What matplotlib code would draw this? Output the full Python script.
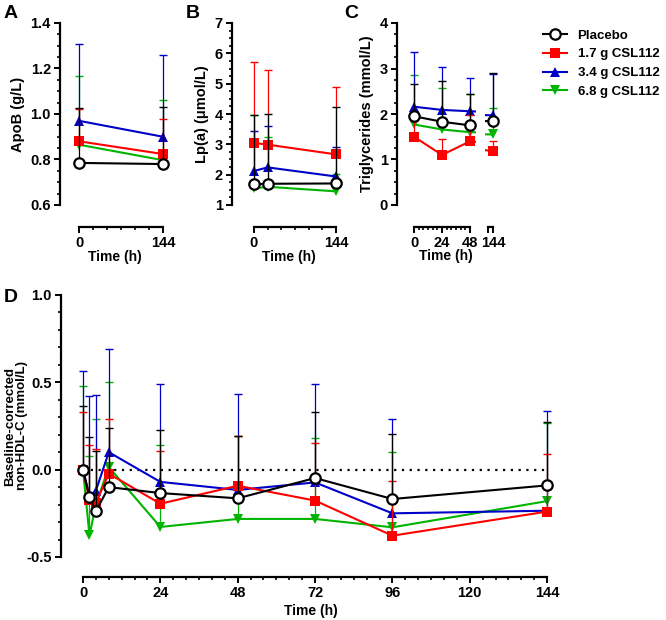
import numpy as np
import matplotlib
matplotlib.use("Agg")
import matplotlib.pyplot as plt
from matplotlib.ticker import MultipleLocator, FixedLocator, FormatStrFormatter
from matplotlib.lines import Line2D

plt.rcParams['font.family'] = ['Liberation Sans', 'DejaVu Sans']
plt.rcParams['font.weight'] = 'bold'
plt.rcParams['axes.labelweight'] = 'bold'
plt.rcParams['axes.unicode_minus'] = False

# groups
groups = ["Placebo", "1.7 g CSL112", "3.4 g CSL112", "6.8 g CSL112"]
colors = ["black", "#ff0000", "#0000c8", "#00b400"]

# Panel A: ApoB (g/L), mean and upper SD
tA = [0, 144]
apob_mean = {"Placebo": [0.785, 0.78], "1.7 g CSL112": [0.88, 0.824],
             "3.4 g CSL112": [0.97, 0.90], "6.8 g CSL112": [0.865, 0.797]}
apob_sd = {"Placebo": [0.24, 0.25], "1.7 g CSL112": [0.14, 0.153],
           "3.4 g CSL112": [0.338, 0.36], "6.8 g CSL112": [0.30, 0.263]}

# Panel B: Lp(a) (umol/L)
tB = [0, 24, 144]
lpa_mean = {"Placebo": [1.68, 1.70, 1.71], "1.7 g CSL112": [3.05, 2.99, 2.67],
            "3.4 g CSL112": [2.12, 2.24, 1.94], "6.8 g CSL112": [1.55, 1.60, 1.45]}
lpa_sd = {"Placebo": [2.30, 2.31, 2.51], "1.7 g CSL112": [2.67, 2.45, 2.23],
          "3.4 g CSL112": [1.33, 1.36, 0.98], "6.8 g CSL112": [2.42, 1.65, 0.57]}

# Panel C: Triglycerides (mmol/L)
tC = [0, 24, 48, 144]
tg_mean = {"Placebo": [1.95, 1.83, 1.75, 1.85], "1.7 g CSL112": [1.50, 1.10, 1.40, 1.19],
           "3.4 g CSL112": [2.16, 2.09, 2.06, 1.97], "6.8 g CSL112": [1.77, 1.66, 1.60, 1.55]}
tg_sd = {"Placebo": [0.72, 0.89, 0.70, 1.05], "1.7 g CSL112": [0.35, 0.35, 0.57, 0.22],
         "3.4 g CSL112": [1.21, 0.94, 0.74, 0.91], "6.8 g CSL112": [1.08, 0.91, 0.85, 0.58]}

# Panel D: baseline-corrected non-HDL-C (mmol/L)
tD = [0, 2, 4, 8, 24, 48, 72, 96, 144]
nhdl_mean = {
    "Placebo": [0, -0.157, -0.237, -0.10, -0.134, -0.164, -0.048, -0.168, -0.09],
    "1.7 g CSL112": [0, -0.175, -0.19, -0.023, -0.195, -0.092, -0.177, -0.378, -0.24],
    "3.4 g CSL112": [0, -0.15, -0.12, 0.10, -0.07, -0.116, -0.073, -0.25, -0.235],
    "6.8 g CSL112": [0, -0.376, -0.20, 0.015, -0.328, -0.282, -0.282, -0.33, -0.18]}
nhdl_sd = {
    "Placebo": [0.363, 0.344, 0.344, 0.34, 0.359, 0.359, 0.38, 0.372, 0.361],
    "1.7 g CSL112": [0.33, 0.315, 0.31, 0.313, 0.302, 0.287, 0.328, 0.311, 0.33],
    "3.4 g CSL112": [0.563, 0.57, 0.55, 0.59, 0.56, 0.549, 0.563, 0.54, 0.573],
    "6.8 g CSL112": [0.48, 0.456, 0.49, 0.485, 0.468, 0.472, 0.462, 0.433, 0.45]}

markers = {"Placebo": dict(marker='o', ms=7.5, mfc='white', mew=1.6),
           "1.7 g CSL112": dict(marker='s', ms=6.5, mew=0),
           "3.4 g CSL112": dict(marker='^', ms=6.5, mew=0),
           "6.8 g CSL112": dict(marker='v', ms=6.5, mew=0)}
zorders = {"Placebo": 5, "1.7 g CSL112": 4, "3.4 g CSL112": 3, "6.8 g CSL112": 2}
draw_order = ["6.8 g CSL112", "3.4 g CSL112", "1.7 g CSL112", "Placebo"]


def draw(ax, t, means, sds, clip=False):
    for g in draw_order:
        c = colors[groups.index(g)]
        m = np.array(means[g])
        top = m + np.array(sds[g])
        z = zorders[g]
        ax.vlines(t, m, top, color=c, lw=0.9, zorder=z)
        ax.plot(t, top, ls='none', marker='_', ms=6, mew=1.0, color=c, zorder=z)
        ax.plot(t, m, color=c, lw=1.5, mec=c, zorder=z + 0.5, clip_on=clip, **markers[g])


def style(ax, ylo, yhi, major, minor, spine_out=15.8, left=True):
    ax.set_ylim(ylo, yhi)
    for s in ['top', 'right']:
        ax.spines[s].set_visible(False)
    ax.spines['bottom'].set_position(('outward', spine_out))
    ax.spines['bottom'].set_linewidth(1.6)
    ax.spines['left'].set_linewidth(1.6)
    ax.spines['left'].set_bounds(ylo, yhi)
    if not left:
        ax.spines['left'].set_visible(False)
        ax.tick_params(axis='y', left=False, labelleft=False, which='both')
    ax.yaxis.set_major_locator(MultipleLocator(major))
    ax.yaxis.set_minor_locator(MultipleLocator(minor))
    ax.tick_params(which='major', length=4.5, width=1.4, labelsize=10.5, pad=2)
    ax.tick_params(which='minor', length=2.5, width=1.2)


W, H = 666, 620


def box(x0, x1, ytop, ybot):
    return [x0 / W, 1 - ybot / H, (x1 - x0) / W, (ybot - ytop) / H]


fig = plt.figure(figsize=(6.66, 6.2), dpi=100)

# A
axA = fig.add_axes(box(60, 170, 23, 205))
draw(axA, tA, apob_mean, apob_sd)
style(axA, 0.6, 1.4, 0.2, 0.05)
axA.set_xlim(-32.6, 156)
axA.spines['bottom'].set_bounds(0, 144)
axA.set_xticks([0, 144])
axA.xaxis.set_minor_locator(FixedLocator(range(24, 144, 24)))
axA.yaxis.set_major_formatter(FormatStrFormatter('%.1f'))
axA.set_ylabel("ApoB (g/L)", fontsize=10.5)
axA.set_xlabel("Time (h)", fontsize=10, labelpad=0)

# B
axB = fig.add_axes(box(232, 345, 23, 205))
draw(axB, tB, lpa_mean, lpa_sd)
style(axB, 1, 7, 1, 0.25)
axB.set_xlim(-38.6, 160)
axB.spines['bottom'].set_bounds(0, 144)
axB.set_xticks([0, 144])
axB.xaxis.set_minor_locator(FixedLocator(range(24, 144, 24)))
axB.set_ylabel("Lp(a) (μmol/L)", fontsize=10.5)
axB.set_xlabel("Time (h)", fontsize=10, labelpad=0)

# C (broken x axis)
pxh = (470 - 414) / 48
axC = fig.add_axes(box(397, 476, 23, 205))
draw(axC, tC, tg_mean, tg_sd, clip=True)
style(axC, 0, 4, 1, 0.25)
axC.set_xlim(-(414 - 397) / pxh, 48 + (476 - 470) / pxh)
axC.spines['bottom'].set_bounds(0, 48)
axC.set_xticks([0, 24, 48])
axC.xaxis.set_minor_locator(FixedLocator(range(4, 48, 4)))
axC.set_ylabel("Triglycerides (mmol/L)", fontsize=10.5)
axC.set_xlabel("Time (h)", fontsize=10)
axC.xaxis.set_label_coords(0.62, -0.24)

axC2 = fig.add_axes(box(485, 500, 23, 205))
axC2.patch.set_visible(False)
draw(axC2, tC, tg_mean, tg_sd, clip=True)
style(axC2, 0, 4, 1, 0.25, left=False)
axC2.set_xlim(144 - 8 / pxh, 144 + 7 / pxh)
axC2.spines['bottom'].set_bounds(140, 144)
axC2.set_xticks([140, 144])
axC2.set_xticklabels(["", "144"])

# D
axD = fig.add_axes(box(61, 560, 295, 557))
axD.plot([0, 144], [0, 0], ls=(0, (1, 2.5)), color='black', lw=1.6, zorder=1)
draw(axD, tD, nhdl_mean, nhdl_sd)
style(axD, -0.5, 1.0, 0.5, 0.1, spine_out=14.4)
axD.set_xlim(-6.83, 148)
axD.spines['bottom'].set_bounds(0, 144)
axD.set_xticks([0, 24, 48, 72, 96, 120, 144])
axD.xaxis.set_minor_locator(FixedLocator(range(4, 144, 4)))
axD.yaxis.set_major_formatter(FormatStrFormatter('%.1f'))
axD.set_ylabel("Baseline-corrected\nnon-HDL-C (mmol/L)", fontsize=9.5, linespacing=1.0)
axD.yaxis.set_label_coords(-0.066, 0.5)
axD.set_xlabel("Time (h)", fontsize=10, labelpad=3)

# panel letters
for lab, x, y in [("A", 4, 13), ("B", 186, 13), ("C", 344, 13), ("D", 4, 297)]:
    fig.text(x / W, 1 - y / H, lab, fontsize=14, fontweight='bold', va='center', ha='left')

# legend
handles = []
for g in groups:
    c = colors[groups.index(g)]
    handles.append(Line2D([], [], color=c, lw=1.5, mec=c, **markers[g]))
fig.legend(handles, groups, loc='upper left', bbox_to_anchor=(538 / W, 1 - 24 / H),
           frameon=False, fontsize=9.5, handlelength=1.8, labelspacing=0.5,
           handletextpad=0.8, borderaxespad=0)

fig.savefig("out.png", dpi=100)
